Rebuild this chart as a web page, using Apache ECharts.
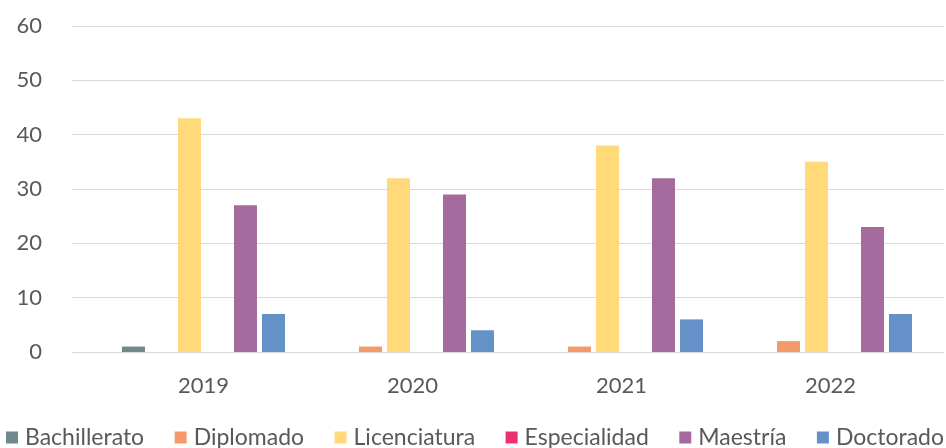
<!DOCTYPE html>
<html><head><meta charset="utf-8">
<script src="https://cdn.jsdelivr.net/npm/echarts@6/dist/echarts.min.js"></script>
<style>html,body{margin:0;padding:0;background:#fff}#c{width:946px;height:448px}</style>
</head><body><div id="c"></div>
<script>
const categories = ['2019','2020','2021','2022'];
const seriesNames = ['Bachillerato','Diplomado','Licenciatura','Especialidad','Maestría','Doctorado'];
const bachillerato = [1,0,0,0];
const diplomado = [0,1,1,2];
const licenciatura = [43,32,38,35];
const especialidad = [0,0,0,0];
const maestria = [27,29,32,23];
const doctorado = [7,4,6,7];
const yTicks = [0,10,20,30,40,50,60];

const colors = ['#70888C','#F4996A','#FFD97A','#E8336E','#A66B9E','#6391C8'];
const values = [bachillerato,diplomado,licenciatura,especialidad,maestria,doctorado];
const font = 'Lato';
const chart = echarts.init(document.getElementById('c'));
chart.setOption({
  animation:false,
  color: colors,
  textStyle:{fontFamily:font},
  grid:[
    {left:99,right:11,top:26,bottom:96},
    {left:72,right:2,top:26,bottom:96}
  ],
  legend:{
    left:6, top:426, width:945, padding:0, icon:'rect', itemWidth:12, itemHeight:12, itemGap:30.5,
    textStyle:{fontFamily:font,fontSize:23,color:'#595959',padding:[0,0,0,2]},
    data: seriesNames
  },
  xAxis:[
    {type:'category',gridIndex:0,data:categories,axisTick:{show:false},axisLine:{show:false},
     axisLabel:{fontSize:22,color:'#595959',margin:23,fontFamily:font}},
    {type:'value',gridIndex:1,show:false,min:0,max:1}
  ],
  yAxis:[
    {type:'value',gridIndex:0,min:0,max:60,interval:10,show:false},
    {type:'value',gridIndex:1,min:yTicks[0],max:yTicks[yTicks.length-1],interval:10,
     axisLine:{show:false},axisTick:{show:false},
     splitLine:{lineStyle:{color:'#D9D9D9',width:1}},
     axisLabel:{fontSize:22,color:'#595959',margin:30,fontFamily:font}}
  ],
  series: seriesNames.map((n,i)=>({
    name:n,type:'bar',xAxisIndex:0,yAxisIndex:0,data:values[i],
    barWidth:23,barGap:'21.7%',itemStyle:{color:colors[i]}
  }))
});
</script></body></html>
